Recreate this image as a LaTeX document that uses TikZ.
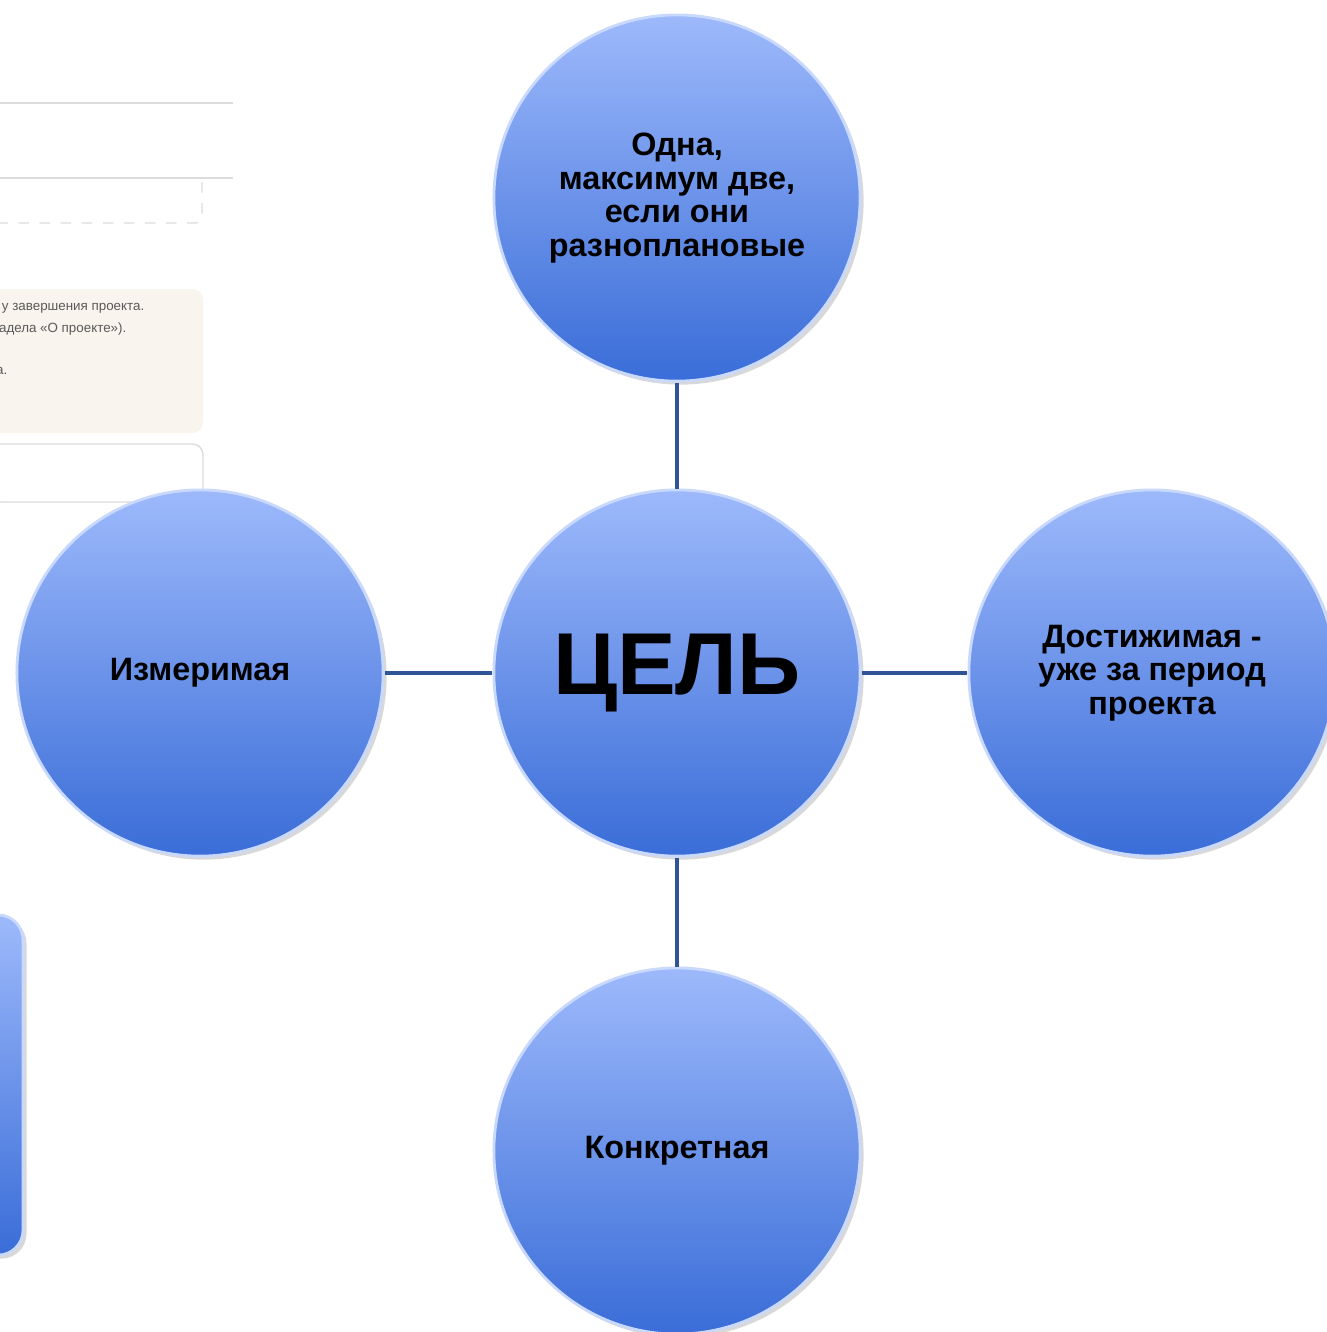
\documentclass[tikz,border=0pt]{standalone}
\usepackage{fontspec}
\setmainfont{Liberation Sans}
\usetikzlibrary{shadows}

\definecolor{ballTop}{HTML}{9DB9FB}
\definecolor{ballBot}{HTML}{3A6DD8}
\definecolor{ballRim}{HTML}{C9D8FD}
\definecolor{linkBlue}{HTML}{2F5597}
\definecolor{pageLine}{HTML}{DCDCDC}
\definecolor{noteFill}{HTML}{FAF4EE}

\tikzset{
	ball/.style={circle, minimum size=3.66cm, inner sep=0pt, align=center,
		top color=ballTop, bottom color=ballBot, draw=ballRim, line width=0.8pt,
		drop shadow={opacity=0.3, shadow xshift=1pt, shadow yshift=-1pt},
		font=\bfseries\fontsize{9.2}{9.5}\selectfont},
	link/.style={draw=linkBlue, line width=1.2pt},
	pageline/.style={draw=pageLine, line width=0.4pt},
	scrap/.style={inner sep=0pt, text=black!65, font=\fontsize{3.8}{4}\selectfont},
}

\begin{document}
\begin{tikzpicture}[x=0.01cm, y=-0.01cm]
	\useasboundingbox[fill=white] (0,0) rectangle (1327,1332);
	% remains of the web page on the left
	\draw[pageline] (0,103) -- (233,103);
	\draw[pageline] (0,178) -- (233,178);
	\draw[pageline, dashed, rounded corners=2] (202,182) -- (202,223) -- (0,223);
	\fill[noteFill, rounded corners=3] (-10,289) rectangle (203,433);
	\node[scrap, anchor=base east] (n1) at (145,310) {у завершения проекта.};
	\node[scrap, anchor=base east] (n2) at (127,332) {адела «О проекте»).};
	\node[scrap, anchor=base east] (n3) at (8,374) {а.};
	\draw[pageline, rounded corners=3] (-10,444) rectangle (203,502);
	\node[ball, rectangle, rounded corners=0.25cm, minimum width=1.5cm,
		minimum height=3.4cm] (side) at (-52,1085) {};
	% goal and its properties
	\node[ball] (one) at (677,198) {Одна,\\максимум две,\\если они\\разноплановые};
	\node[ball] (goal) at (677,673) {\fontsize{25}{25}\selectfont ЦЕЛЬ};
	\node[ball] (meas) at (200,673) {Измеримая};
	\node[ball] (reach) at (1152,673) {Достижимая -\\уже за период\\проекта};
	\node[ball] (conc) at (677,1151) {Конкретная};
	\draw[link] (one) -- (goal);
	\draw[link] (meas) -- (goal);
	\draw[link] (goal) -- (reach);
	\draw[link] (goal) -- (conc);
\end{tikzpicture}
\end{document}
